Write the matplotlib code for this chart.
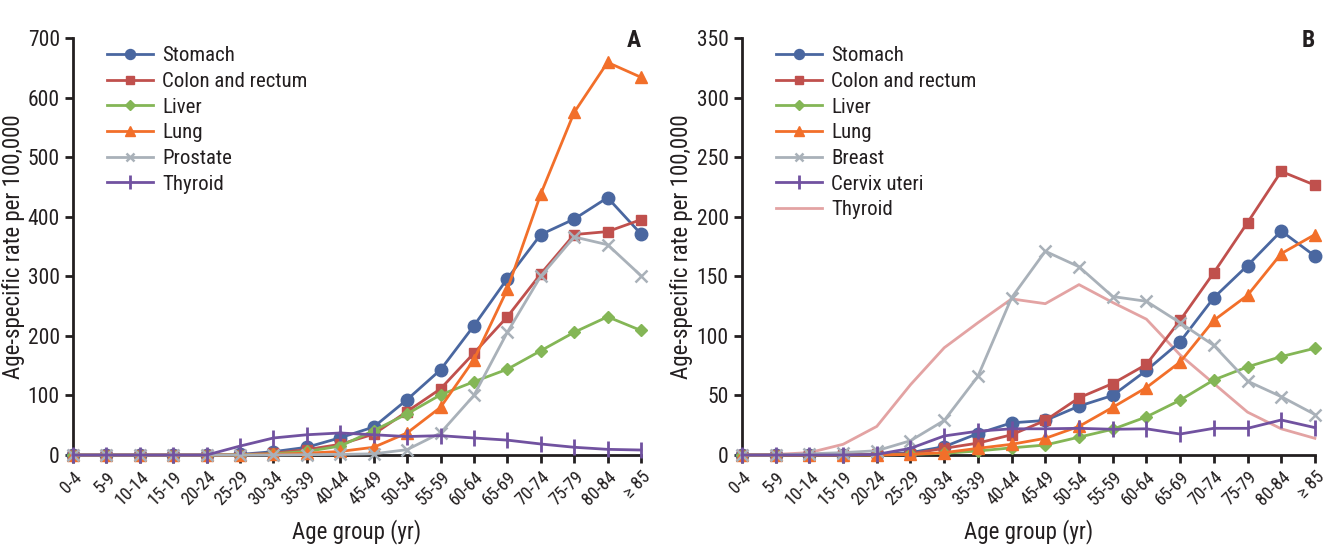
import matplotlib
matplotlib.use("Agg")
import matplotlib.pyplot as plt

plt.rcParams['font.family'] = ['Liberation Sans Narrow', 'Roboto Condensed', 'Liberation Sans', 'DejaVu Sans']

age_groups = ["0-4", "5-9", "10-14", "15-19", "20-24", "25-29", "30-34", "35-39",
              "40-44", "45-49", "50-54", "55-59", "60-64", "65-69", "70-74",
              "75-79", "80-84", "\u2265 85"]

# Panel A (men)
a_stomach = [0, 0, 0, 0, 0, 1, 5.6, 13, 29, 47, 93, 143, 217, 296, 370, 396, 432, 371]
a_colon = [0, 0, 0, 0, 0, 0.5, 3, 9, 18, 35, 73, 111, 171, 232, 304, 370, 375, 395]
a_liver = [0, 0, 0, 0, 0, 0.3, 2, 6, 15, 41, 69, 101, 123, 144, 175, 206, 232, 209]
a_lung = [0, 0, 0, 0, 0, 0, 1, 3, 6, 13, 37, 80, 160, 278, 438, 575, 659, 634]
a_prostate = [0, 0, 0, 0, 0, 0, 0, 0.5, 1, 2, 9, 37, 100, 206, 300, 366, 353, 301]
a_thyroid = [0, 0, 0, 0, 0, 15, 28.6, 34, 37, 34, 31, 32.5, 28.6, 25, 18.5, 13, 9.5, 8.4]

# Panel B (women)
b_stomach = [0, 0, 0, 0, 0.5, 2, 7, 18, 27, 29, 41, 50, 71, 95, 132, 159, 188, 167]
b_colon = [0, 0, 0, 0, 0.5, 1, 5.6, 10, 17, 29, 48, 60, 76, 113, 153, 195, 238, 226.5]
b_liver = [0, 0, 0, 0, 0, 0.5, 1.4, 3.4, 6, 8.4, 15, 21.6, 32, 46, 63, 74, 82.6, 89.6]
b_lung = [0, 0, 0, 0, 0, 0.5, 2, 5.6, 9, 14, 24, 40, 56.6, 78, 113, 134, 169, 185]
b_breast = [0, 0, 1, 2, 3.6, 12, 29, 66, 132, 171, 158, 133, 129, 111, 92, 62, 49, 34]
b_cervix = [0, 0, 0, 0, 0.5, 5.6, 16, 20, 22, 22, 22.4, 21.6, 22, 17.6, 22.4, 22.4, 29.4, 23]
b_thyroid = [0, 0.5, 2, 9, 24, 59, 90, 111, 131, 127, 143, 128, 114, 84, 60, 36, 22, 14]

C_STOM = "#4a67a0"
C_COLON = "#c0504d"
C_LIVER = "#84b656"
C_LUNG = "#f26f2a"
C_GREY = "#a9b1b9"
C_PURP = "#7152a0"
C_PINK = "#e3a3a3"
C_AXIS = "#231f20"

fig = plt.figure(figsize=(13.29, 5.5), dpi=100)
axA = fig.add_axes([0.0549, 0.1727, 0.4274, 0.7583])
axB = fig.add_axes([0.5583, 0.1727, 0.4311, 0.7583])

x = list(range(len(age_groups)))

def style(ax, ymax, ystep):
    ax.set_xlim(0, 17)
    ax.set_ylim(0, ymax)
    ax.set_yticks(range(0, ymax + 1, ystep))
    ax.set_xticks(x)
    ax.set_xticklabels(age_groups, rotation=45, ha='right', rotation_mode='anchor', fontsize=13)
    ax.tick_params(axis='y', labelsize=15.5, width=2, length=6, direction='out', colors=C_AXIS)
    ax.tick_params(axis='x', width=2, length=6, direction='out', colors=C_AXIS)
    for s in ['top', 'right']:
        ax.spines[s].set_visible(False)
    for s in ['left', 'bottom']:
        ax.spines[s].set_linewidth(2)
        ax.spines[s].set_color(C_AXIS)
    ax.set_xlabel("Age group (yr)", fontsize=16.5, color=C_AXIS, labelpad=7)
    ax.set_ylabel("Age-specific rate per 100,000", fontsize=16.5, color=C_AXIS)

def plot(ax, y, color, marker, label, ms=8, mew=1.0):
    ax.plot(x, y, color=color, marker=marker, markersize=ms, linewidth=2,
            markeredgewidth=mew, label=label, clip_on=False, zorder=3)

plot(axA, a_stomach, C_STOM, 'o', "Stomach", ms=9)
plot(axA, a_colon, C_COLON, 's', "Colon and rectum", ms=7.5)
plot(axA, a_liver, C_LIVER, 'D', "Liver", ms=6.5)
plot(axA, a_lung, C_LUNG, '^', "Lung", ms=8.5)
plot(axA, a_prostate, C_GREY, 'x', "Prostate", ms=8, mew=1.8)
plot(axA, a_thyroid, C_PURP, '|', "Thyroid", ms=12, mew=2)

plot(axB, b_stomach, C_STOM, 'o', "Stomach", ms=9)
plot(axB, b_colon, C_COLON, 's', "Colon and rectum", ms=7.5)
plot(axB, b_liver, C_LIVER, 'D', "Liver", ms=6.5)
plot(axB, b_lung, C_LUNG, '^', "Lung", ms=8.5)
plot(axB, b_breast, C_GREY, 'x', "Breast", ms=8, mew=1.8)
plot(axB, b_cervix, C_PURP, '|', "Cervix uteri", ms=12, mew=2)
axB.plot(x, b_thyroid, color=C_PINK, linewidth=2, label="Thyroid", clip_on=False, zorder=2)

style(axA, 700, 100)
style(axB, 350, 50)

for ax in (axA, axB):
    leg = ax.legend(loc='upper left', bbox_to_anchor=(0.045, 1.0), frameon=False, fontsize=15,
                    handlelength=2.2, labelspacing=0.32, handletextpad=0.45, borderaxespad=0.0,
                    markerscale=0.8)
    for t in leg.get_texts():
        t.set_color(C_AXIS)
    ax.yaxis.set_label_coords(-0.085, 0.5)

fig.text(0.482, 0.905, "A", fontsize=17, fontweight='bold', ha='right', va='bottom', color=C_AXIS)
fig.text(0.989, 0.905, "B", fontsize=17, fontweight='bold', ha='right', va='bottom', color=C_AXIS)

fig.savefig("out.png", dpi=100)
